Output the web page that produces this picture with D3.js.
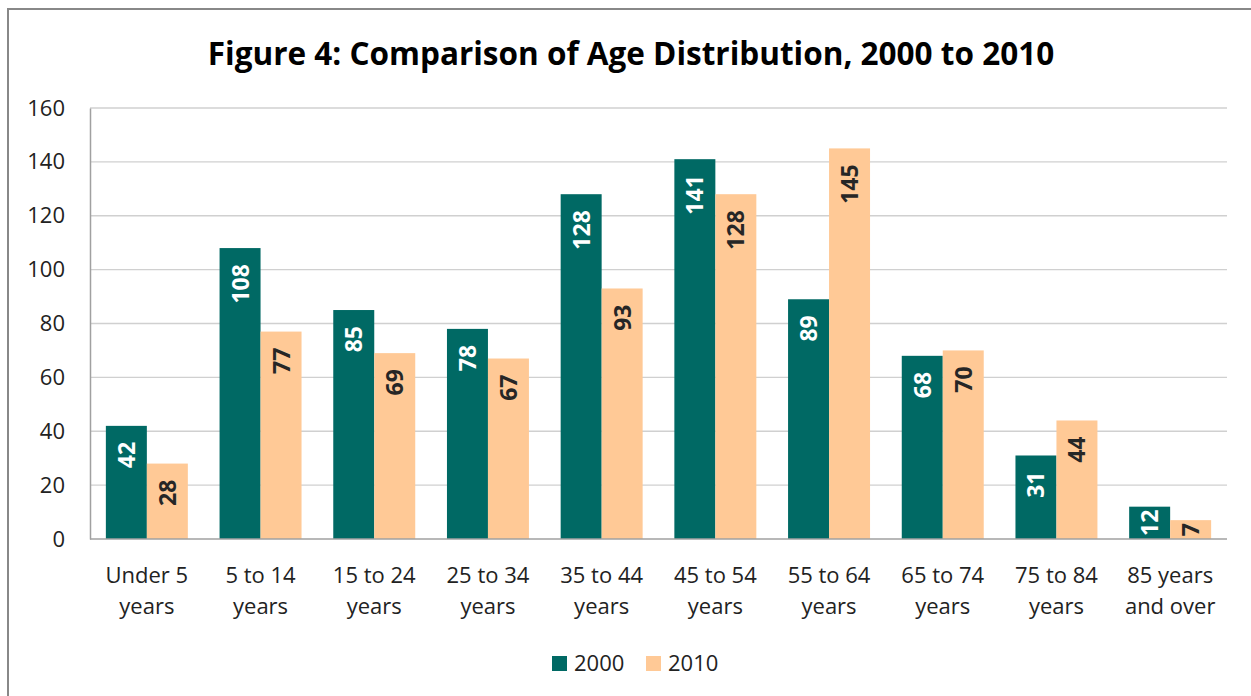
<!DOCTYPE html>
<html>
<head>
<meta charset="utf-8">
<script src="https://cdn.jsdelivr.net/npm/d3@7"></script>
<style>
  body { margin: 0; background: #fff; }
  svg { display: block; font-family: "Open Sans", sans-serif; }
</style>
</head>
<body>
<div id="chart"></div>
<script>
// age groups and counts
var categories = ["Under 5 years", "5 to 14 years", "15 to 24 years", "25 to 34 years", "35 to 44 years",
                  "45 to 54 years", "55 to 64 years", "65 to 74 years", "75 to 84 years", "85 years and over"];
var catLines = [["Under 5", "years"], ["5 to 14", "years"], ["15 to 24", "years"], ["25 to 34", "years"], ["35 to 44", "years"],
                ["45 to 54", "years"], ["55 to 64", "years"], ["65 to 74", "years"], ["75 to 84", "years"], ["85 years", "and over"]];
var series = ["2000", "2010"];
var values2000 = [42, 108, 85, 78, 128, 141, 89, 68, 31, 12];
var values2010 = [28, 77, 69, 67, 93, 128, 145, 70, 44, 7];
var yTicks = [0, 20, 40, 60, 80, 100, 120, 140, 160];

var W = 1251, H = 696;
var colors = { "2000": "#006964", "2010": "#FFC996" };
var labelColors = { "2000": "#ffffff", "2010": "#262626" };

var svg = d3.select("#chart").append("svg")
    .attr("width", W)
    .attr("height", H);

// chart frame
svg.append("rect")
    .attr("x", 8).attr("y", 9)
    .attr("width", W + 20).attr("height", H + 20)
    .attr("fill", "#fff")
    .attr("stroke", "#888")
    .attr("stroke-width", 2);

var plot = { left: 90, right: 1227, top: 108, bottom: 539 };

var x0 = d3.scaleBand()
    .domain(categories)
    .range([plot.left, plot.right])
    .paddingInner(0.279)
    .paddingOuter(0.1395);

var x1 = d3.scaleBand()
    .domain(series)
    .range([0, x0.bandwidth()]);

var y = d3.scaleLinear()
    .domain([0, 160])
    .range([plot.bottom, plot.top]);

// title
svg.append("text")
    .attr("x", 631)
    .attr("y", 65)
    .attr("text-anchor", "middle")
    .attr("font-size", 31.5)
    .attr("font-weight", "bold")
    .attr("fill", "#000")
    .text("Figure 4: Comparison of Age Distribution, 2000 to 2010");

// gridlines
svg.append("g")
    .selectAll("line")
    .data(yTicks.filter(function (d) { return d > 0; }))
    .enter().append("line")
    .attr("x1", plot.left).attr("x2", plot.right)
    .attr("y1", function (d) { return y(d); })
    .attr("y2", function (d) { return y(d); })
    .attr("stroke", "#d0d0d0")
    .attr("stroke-width", 1.3);

// y axis
var yAxis = svg.append("g")
    .attr("transform", "translate(" + plot.left + ",0)")
    .call(d3.axisLeft(y).tickValues(yTicks).tickSize(0).tickPadding(25));
yAxis.select(".domain").attr("stroke", "#a0a0a0").attr("stroke-width", 1.5);
yAxis.selectAll("text")
    .attr("font-size", 22)
    .attr("fill", "#222")
    .attr("font-family", "'Open Sans', sans-serif");

// bars
var data = categories.map(function (c, i) {
    return { cat: c, vals: [{ s: "2000", v: values2000[i] }, { s: "2010", v: values2010[i] }] };
});

var groups = svg.append("g").selectAll("g")
    .data(data)
    .enter().append("g")
    .attr("transform", function (d) { return "translate(" + x0(d.cat) + ",0)"; });

groups.selectAll("rect")
    .data(function (d) { return d.vals; })
    .enter().append("rect")
    .attr("x", function (d) { return x1(d.s); })
    .attr("width", x1.bandwidth())
    .attr("y", function (d) { return y(d.v); })
    .attr("height", function (d) { return y(0) - y(d.v); })
    .attr("fill", function (d) { return colors[d.s]; });

// value labels, rotated, inside end; centred when the bar is too short; clipped at the axis
svg.append("clipPath").attr("id", "plotClip")
    .append("rect")
    .attr("x", plot.left).attr("y", plot.top - 20)
    .attr("width", plot.right - plot.left).attr("height", plot.bottom - plot.top + 20);

var labelLayer = svg.append("g").attr("clip-path", "url(#plotClip)");
data.forEach(function (g) {
    g.vals.forEach(function (d) {
        var cx = x0(g.cat) + x1(d.s) + x1.bandwidth() / 2;
        var barH = y(0) - y(d.v);
        var t = labelLayer.append("text")
            .attr("font-size", 23)
            .attr("font-weight", "bold")
            .attr("fill", labelColors[d.s])
            .text(d.v);
        var len = t.node().getComputedTextLength();
        if (len + 18 > barH) {
            t.attr("text-anchor", "middle")
             .attr("transform", "translate(" + (cx + 8.5) + "," + (y(d.v) + barH / 2) + ") rotate(-90)");
        } else {
            t.attr("text-anchor", "end")
             .attr("transform", "translate(" + (cx + 8.5) + "," + (y(d.v) + 16) + ") rotate(-90)");
        }
    });
});

// x axis baseline
svg.append("line")
    .attr("x1", plot.left).attr("x2", plot.right)
    .attr("y1", y(0)).attr("y2", y(0))
    .attr("stroke", "#a0a0a0")
    .attr("stroke-width", 1.5);

// category labels
var xl = svg.append("g").selectAll("text")
    .data(categories)
    .enter().append("text")
    .attr("x", function (d) { return x0(d) + x0.bandwidth() / 2; })
    .attr("y", 583)
    .attr("text-anchor", "middle")
    .attr("font-size", 22)
    .attr("fill", "#222");
xl.selectAll("tspan")
    .data(function (d) { return catLines[categories.indexOf(d)]; })
    .enter().append("tspan")
    .attr("x", function () { return this.parentNode.getAttribute("x"); })
    .attr("dy", function (d, i) { return i === 0 ? 0 : 31; })
    .text(function (d) { return d; });

// legend
var legend = svg.append("g");
var legendX = [552, 646];
series.forEach(function (s, i) {
    legend.append("rect")
        .attr("x", legendX[i]).attr("y", 656)
        .attr("width", 15).attr("height", 15)
        .attr("fill", colors[s]);
    legend.append("text")
        .attr("x", legendX[i] + 22).attr("y", 671)
        .attr("font-size", 22)
        .attr("fill", "#222")
        .text(s);
});
</script>
</body>
</html>
